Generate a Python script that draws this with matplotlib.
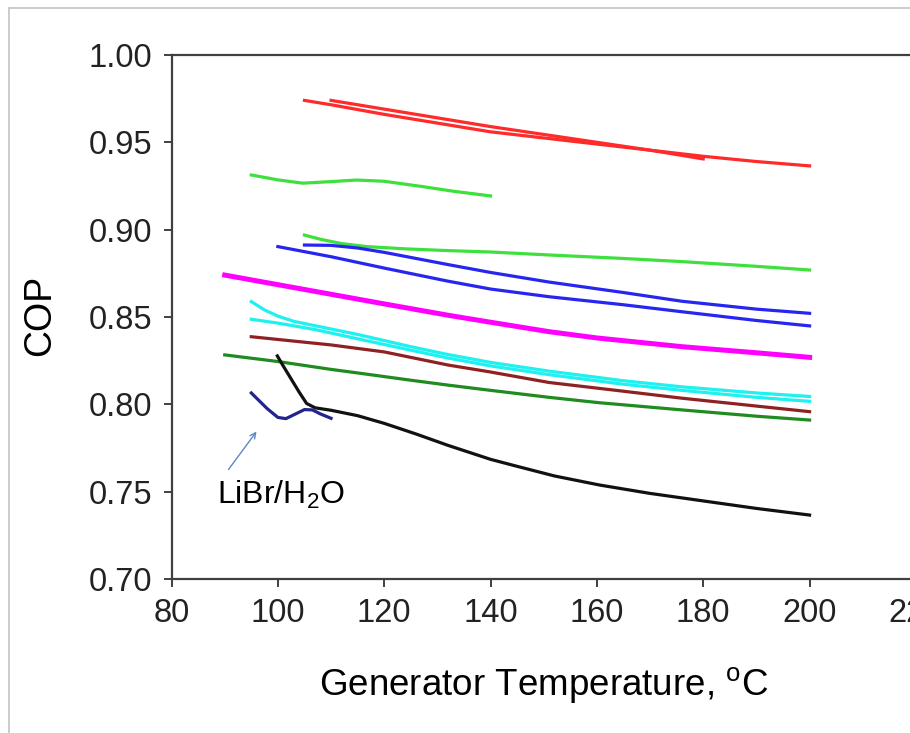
import matplotlib
matplotlib.use("Agg")
import matplotlib.pyplot as plt
from matplotlib.lines import Line2D
from matplotlib.ticker import FormatStrFormatter

plt.rcParams['font.family'] = ['Liberation Sans', 'DejaVu Sans']
plt.rcParams['mathtext.fontset'] = 'custom'
plt.rcParams['mathtext.rm'] = 'Liberation Sans'

## values (generator temperature in C, COP)
red1_t = [105, 110, 120, 130, 140, 150, 160, 170, 180, 190, 200]
red1_cop = [0.974, 0.9715, 0.966, 0.961, 0.956, 0.9525, 0.949, 0.9455, 0.942, 0.939, 0.9365]
red2_t = [110, 120, 130, 140, 150, 160, 170, 180]
red2_cop = [0.974, 0.969, 0.964, 0.959, 0.9545, 0.950, 0.9455, 0.9405]

lgreen1_t = [95, 100, 104.7, 110, 114.8, 120, 127.3, 133, 140]
lgreen1_cop = [0.9313, 0.9285, 0.9266, 0.9275, 0.9284, 0.9277, 0.9246, 0.922, 0.9193]
lgreen2_t = [105, 108, 112, 116.7, 124, 132, 140, 151, 165, 176, 190, 200]
lgreen2_cop = [0.8969, 0.8945, 0.892, 0.8903, 0.889, 0.888, 0.8872, 0.8855, 0.8835, 0.8817, 0.879, 0.8769]

blue1_t = [100, 110, 120, 132, 140, 151, 165, 176, 190, 200]
blue1_cop = [0.8903, 0.8845, 0.878, 0.8705, 0.866, 0.8616, 0.857, 0.853, 0.848, 0.8449]
blue2_t = [105, 110, 115, 120, 132, 140, 151, 165, 176, 190, 200]
blue2_cop = [0.8912, 0.8910, 0.8895, 0.887, 0.880, 0.8755, 0.870, 0.864, 0.859, 0.8545, 0.8521]

magenta_t = [90, 100, 110, 120, 132, 140, 151, 160, 176, 190, 200]
magenta_cop = [0.874, 0.8685, 0.863, 0.8575, 0.851, 0.847, 0.8416, 0.838, 0.833, 0.8295, 0.8269]

cyan1_t = [95, 97.5, 100, 103, 107, 115, 125, 132, 140, 151, 165, 176, 190, 200]
cyan1_cop = [0.8588, 0.854, 0.8505, 0.8475, 0.845, 0.840, 0.833, 0.8285, 0.824, 0.819, 0.8135, 0.810, 0.8065, 0.8045]
cyan2_t = [95, 100, 107, 115, 125, 132, 140, 151, 165, 176, 190, 200]
cyan2_cop = [0.8487, 0.8465, 0.8428, 0.8375, 0.831, 0.8265, 0.822, 0.817, 0.8115, 0.808, 0.804, 0.8017]

brown_t = [95, 110, 120, 132, 140, 151, 165, 176, 190, 200]
brown_cop = [0.8387, 0.834, 0.830, 0.8225, 0.8185, 0.8125, 0.8075, 0.8035, 0.799, 0.7958]

dgreen_t = [90, 100, 110, 115.4, 125, 132, 140, 151, 160.5, 176, 190, 200]
dgreen_cop = [0.8283, 0.8245, 0.820, 0.8178, 0.8138, 0.811, 0.808, 0.804, 0.8009, 0.7968, 0.7932, 0.791]

black_t = [99.9, 101, 102.5, 104, 105.4, 107, 110, 115, 120, 126, 132, 140, 145, 152, 160.5, 170, 180, 190, 200]
black_cop = [0.8277, 0.822, 0.8145, 0.807, 0.8005, 0.798, 0.7966, 0.7935, 0.7891, 0.783, 0.7765, 0.7685,
             0.7645, 0.759, 0.7538, 0.749, 0.7447, 0.7404, 0.7366]

libr_t = [95, 96.5, 98, 100, 101.5, 103, 105, 106.5, 108, 110]
libr_cop = [0.8065, 0.802, 0.7975, 0.7925, 0.7918, 0.794, 0.797, 0.7968, 0.7945, 0.792]

x_ticks = [80, 100, 120, 140, 160, 180, 200, 220]
y_ticks = [0.70, 0.75, 0.80, 0.85, 0.90, 0.95, 1.00]

fig = plt.figure(figsize=(9.1, 7.33), dpi=100)
ax = fig.add_axes([0.1885, 0.2101, 0.818, 0.7149])

lw = 2.3
ax.plot(red1_t, red1_cop, color='#ff2a2a', lw=lw)
ax.plot(red2_t, red2_cop, color='#ff2a2a', lw=lw)
ax.plot(lgreen1_t, lgreen1_cop, color='#3de03d', lw=lw)
ax.plot(lgreen2_t, lgreen2_cop, color='#3de03d', lw=lw)
ax.plot(blue1_t, blue1_cop, color='#2626f0', lw=lw)
ax.plot(blue2_t, blue2_cop, color='#2626f0', lw=lw)
ax.plot(magenta_t, magenta_cop, color='#ff00ff', lw=3.6)
ax.plot(cyan1_t, cyan1_cop, color='#1ff0f0', lw=lw)
ax.plot(cyan2_t, cyan2_cop, color='#1ff0f0', lw=lw)
ax.plot(brown_t, brown_cop, color='#8e2222', lw=lw)
ax.plot(dgreen_t, dgreen_cop, color='#1e8c1e', lw=lw)
ax.plot(black_t, black_cop, color='#111111', lw=lw)
ax.plot(libr_t, libr_cop, color='#24248f', lw=lw)

# pointer to the LiBr/H2O curve
ax.annotate('', xy=(96.3, 0.7857), xytext=(90.4, 0.7614),
            arrowprops=dict(arrowstyle='->', color='#5b88c8', lw=1.0))
ax.text(100.6, 0.748, r'LiBr/H$\mathregular{_2}$O', fontsize=23,
        ha='center', va='center')

ax.set_xlim(80, 220)
ax.set_ylim(0.70, 1.00)
ax.set_xticks(x_ticks)
ax.set_yticks(y_ticks)
ax.yaxis.set_major_formatter(FormatStrFormatter('%.2f'))
ax.tick_params(direction='out', length=6, width=1.4, labelsize=23.5,
               color='#404040', labelcolor='#222222', pad=8)
for s in ax.spines.values():
    s.set_linewidth(1.6)
    s.set_color('#404040')

ax.set_xlabel(r'Generator Temperature, $\mathregular{^{o}}$C', fontsize=26.5)
ax.xaxis.label.set_va('center')
ax.xaxis.set_label_coords(0.5003, -0.2023)
ax.set_ylabel('COP', fontsize=27)
ax.yaxis.label.set_va('center')
ax.yaxis.set_label_coords(-0.1766, 0.504)

# light grey frame of the original picture
fig.add_artist(Line2D([9 / 910, 9 / 910], [0, 1 - 8 / 733], color='#c4c4c4', lw=1.2))
fig.add_artist(Line2D([9 / 910, 1], [1 - 8 / 733, 1 - 8 / 733], color='#c4c4c4', lw=1.2))

fig.savefig('out.png', dpi=100)
